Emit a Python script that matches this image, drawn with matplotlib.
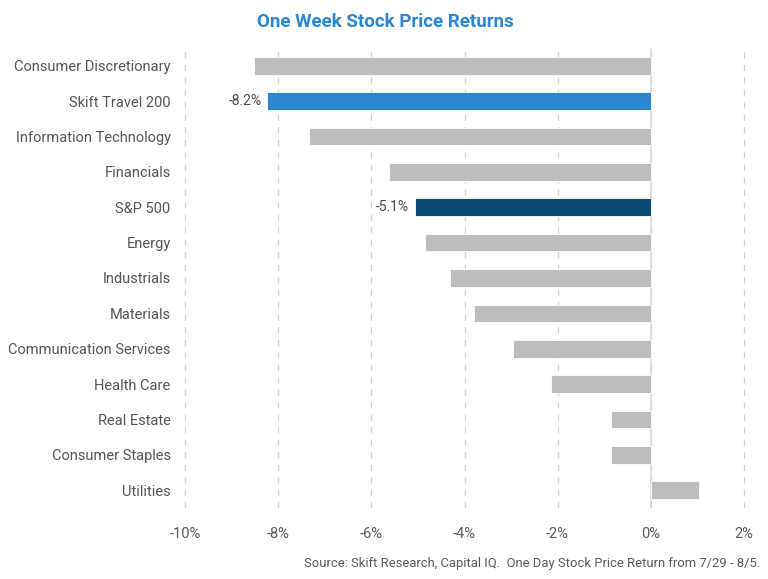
import matplotlib
matplotlib.use("Agg")
import matplotlib.pyplot as plt

categories = ["Consumer Discretionary", "Skift Travel 200", "Information Technology",
              "Financials", "S&P 500", "Energy", "Industrials", "Materials",
              "Communication Services", "Health Care", "Real Estate",
              "Consumer Staples", "Utilities"]
values = [-8.52, -8.24, -7.35, -5.63, -5.07, -4.85, -4.31, -3.79, -2.96, -2.15, -0.86, -0.86, 1.05]
bar_colors = ["#bdbdbd", "#2a86d0", "#bdbdbd", "#bdbdbd", "#0b4874", "#bdbdbd", "#bdbdbd",
              "#bdbdbd", "#bdbdbd", "#bdbdbd", "#bdbdbd", "#bdbdbd", "#bdbdbd"]
labelled = {"Skift Travel 200": "-8.2%", "S&P 500": "-5.1%"}
xticks = [-10, -8, -6, -4, -2, 0, 2]
xticklabels = ["-10%", "-8%", "-6%", "-4%", "-2%", "0%", "2%"]

plt.rcParams['font.family'] = ['Roboto', 'DejaVu Sans']
W, H = 768, 579
fig = plt.figure(figsize=(W/100, H/100), dpi=100)
left_px, right_px, top_px, bot_px = 183, 746, 48, 508
ax = fig.add_axes([left_px/W, 1-bot_px/H, (right_px-left_px)/W, (bot_px-top_px)/H])

y = list(range(len(categories)))
ax.barh(y, values, height=0.5, color=bar_colors, edgecolor="white", linewidth=0.6, zorder=3)
for i, (c, v) in enumerate(zip(categories, values)):
    if c in labelled:
        ax.text(v - 0.12, i, labelled[c], ha="right", va="center", fontsize=10, color="#4a4a4a", zorder=4)

ax.set_xlim(-10.05, 2.05)
ax.set_ylim(len(categories) - 0.5, -0.5)
ax.set_xticks(xticks)
ax.set_xticklabels(xticklabels, fontsize=10.5, color="#5a5a5a")
ax.set_yticks(y)
ax.set_yticklabels(categories, fontsize=10.5, color="#555555")
ax.tick_params(axis="both", length=0)
ax.tick_params(axis="x", pad=14)
ax.tick_params(axis="y", pad=9)
ax.grid(axis="x", linestyle=(0, (5, 5)), color="#d0d0d0", linewidth=0.9, zorder=0)
ax.axvline(0, color="#d9d9d9", linewidth=1.2, zorder=2)
for s in ax.spines.values():
    s.set_visible(False)

fig.text(385/W, 1-22/H, "One Week Stock Price Returns", ha="center", va="center",
         fontsize=13.5, fontweight="bold", color="#2a86d0")
fig.text(760/W, 1-564/H, "Source: Skift Research, Capital IQ.  One Day Stock Price Return from 7/29 - 8/5.",
         ha="right", va="center", fontsize=9.4, color="#595959")

fig.savefig("out.png", dpi=100)
